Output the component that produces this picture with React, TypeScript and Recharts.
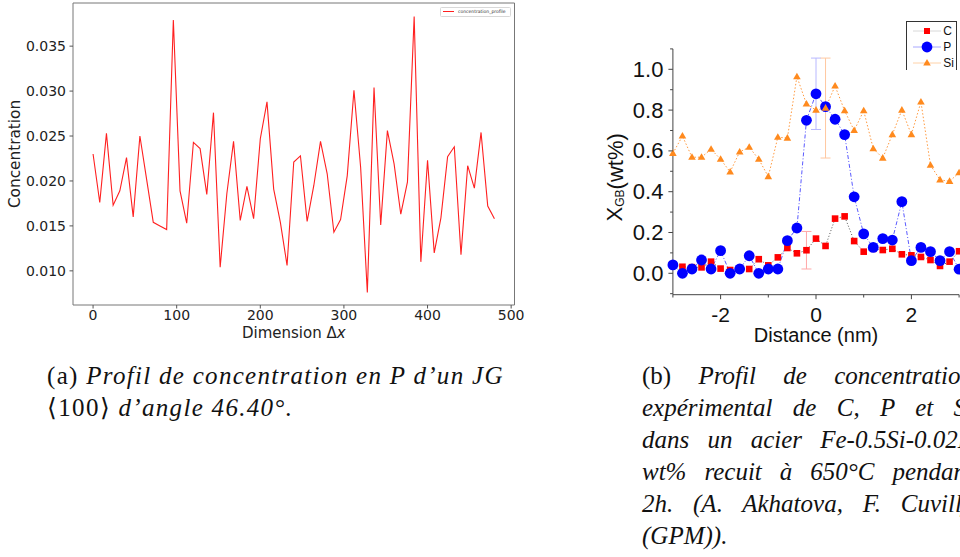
import React from "react";
import { LineChart, Line, XAxis, YAxis, ReferenceArea, Legend, ErrorBar } from "recharts";

// (a) profil simulé
const dimX = [0, 8, 16, 24, 32, 40, 48, 56, 64, 72, 80, 88, 96, 104, 112, 120, 128, 136, 144, 152,
  160, 168, 176, 184, 192, 200, 208, 216, 224, 232, 240, 248, 256, 264, 272, 280, 288, 296, 304, 312,
  320, 328, 336, 344, 352, 360, 368, 376, 384, 392, 400, 408, 416, 424, 432, 440, 448, 456, 464, 472, 480];
const concentration = [0.0230, 0.0176, 0.0253, 0.0173, 0.0189, 0.0226, 0.0160, 0.0250, 0.0202, 0.0154,
  0.0150, 0.0146, 0.0379, 0.0189, 0.0153, 0.0243, 0.0236, 0.0185, 0.0276, 0.0104,
  0.0186, 0.0244, 0.0156, 0.0194, 0.0158, 0.0247, 0.0288, 0.0191, 0.0154, 0.0106,
  0.0221, 0.0228, 0.0155, 0.0195, 0.0244, 0.0208, 0.0143, 0.0157, 0.0206, 0.0301,
  0.0215, 0.0076, 0.0304, 0.0151, 0.0256, 0.0219, 0.0163, 0.0199, 0.0383, 0.0110,
  0.0223, 0.0120, 0.0159, 0.0227, 0.0238, 0.0118, 0.0217, 0.0192, 0.0254, 0.0172, 0.0158];
const dimTicks = [0, 100, 200, 300, 400, 500];
const concTicks = [0.010, 0.015, 0.020, 0.025, 0.030, 0.035];

// (b) profil expérimental
const distance = [-3.0, -2.8, -2.6, -2.4, -2.2, -2.0, -1.8, -1.6, -1.4, -1.2, -1.0, -0.8, -0.6, -0.4, -0.2,
  0.0, 0.2, 0.4, 0.6, 0.8, 1.0, 1.2, 1.4, 1.6, 1.8, 2.0, 2.2, 2.4, 2.6, 2.8, 3.0];
const cWt = [0.040, 0.032, 0.030, 0.029, 0.057, 0.023, 0.016, 0.020, 0.021, 0.069, 0.039, 0.078, 0.124, 0.098, 0.113,
  0.170, 0.134, 0.268, 0.279, 0.158, 0.106, 0.120, 0.114, 0.120, 0.093, 0.088, 0.080, 0.065, 0.036, 0.057, 0.108];
const pWt = [0.041, 0.000, 0.021, 0.065, 0.021, 0.111, 0.000, 0.021, 0.086, 0.000, 0.021, 0.021, 0.160, 0.222, 0.750,
  0.880, 0.817, 0.755, 0.680, 0.375, 0.193, 0.127, 0.170, 0.163, 0.351, 0.062, 0.127, 0.106, 0.062, 0.106, 0.020];
const siWt = [0.588, 0.673, 0.569, 0.569, 0.608, 0.559, 0.497, 0.595, 0.618, 0.559, 0.474, 0.667, 0.663, 0.964, 0.830,
  0.800, 0.810, 0.918, 0.797, 0.700, 0.797, 0.611, 0.565, 0.680, 0.800, 0.680, 0.840, 0.530, 0.458, 0.451, 0.493];
// barres d'erreur : position et demi-largeur
const cErrAt = -0.2, cErrSize = 0.092;
const pErrAt = 0.0, pErrSize = 0.175;
const siErrAt = 0.2, siErrSize = 0.245;
const distTicks = [-3, -2, -1, 0, 1, 2, 3];
const distLabelled = [-2, 0, 2];
const wtTicks = [-0.1, 0.0, 0.1, 0.2, 0.3, 0.4, 0.5, 0.6, 0.7, 0.8, 0.9, 1.0, 1.1];
const wtLabelled = [0.0, 0.2, 0.4, 0.6, 0.8, 1.0];

const profileData = dimX.map((x, i) => ({ x, c: concentration[i] }));
const gbData = distance.map((d, i) => ({
  d,
  C: cWt[i],
  P: pWt[i],
  Si: siWt[i],
  cErr: d === cErrAt ? cErrSize : undefined,
  pErr: d === pErrAt ? pErrSize : undefined,
  siErr: d === siErrAt ? siErrSize : undefined,
}));

const MPL = "'DejaVu Sans', sans-serif";
const ARIAL = "'Liberation Sans', Arial, sans-serif";
const SERIF = "'Liberation Serif', 'Times New Roman', serif";

function ConcLabel(props: any) {
  const vb = props.viewBox || { x: 0, y: 3, width: 73, height: 302 };
  const cy = vb.y + vb.height / 2;
  return (
    <text x={vb.x + 15} y={cy} transform={`rotate(-90, ${vb.x + 15}, ${cy})`} textAnchor="middle"
      dominantBaseline="central" fontSize={15.3} fontFamily={MPL} fill="#222">Concentration</text>
  );
}

function DimLabel(props: any) {
  const vb = props.viewBox || { x: 73, y: 305, width: 441, height: 40 };
  return (
    <text x={vb.x + vb.width / 2} y={vb.y + 33} textAnchor="middle" fontSize={15} fontFamily={MPL} fill="#222">
      Dimension Δ<tspan fontStyle="italic">x</tspan>
    </text>
  );
}

function ProfileLegend() {
  return (
    <div style={{ width: 69, height: 8, border: "0.8px solid #d8d8d8", borderRadius: 1.5, background: "#fff",
      display: "flex", alignItems: "center", fontFamily: MPL, fontSize: 4.5, color: "#333", whiteSpace: "nowrap" }}>
      <span style={{ display: "inline-block", width: 11, height: 1, background: "#ff2020", margin: "0 4px 0 2px" }} />
      concentration_profile
    </div>
  );
}

function WtTick(props: any) {
  const { x, y, payload } = props;
  const major = wtLabelled.some(v => Math.abs(v - payload.value) < 1e-6);
  return (
    <g>
      <line x1={x - (major ? 4.5 : 2.8)} x2={x} y1={y} y2={y} stroke="#444" strokeWidth={1} />
      {major && (
        <text x={x - 9.5} y={y} textAnchor="end" dominantBaseline="central" fontSize={22} fontFamily={ARIAL} fill="#111">
          {payload.value.toFixed(1)}
        </text>
      )}
    </g>
  );
}

function DistTick(props: any) {
  const { x, y, payload } = props;
  const major = distLabelled.includes(payload.value);
  return (
    <g>
      <line x1={x} x2={x} y1={y} y2={y + (major ? 4.5 : 2.8)} stroke="#444" strokeWidth={1} />
      {major && (
        <text x={x} y={y + 19.5} textAnchor="middle" dominantBaseline="central" fontSize={21} fontFamily={ARIAL} fill="#111">
          {payload.value}
        </text>
      )}
    </g>
  );
}

function WtLabel(props: any) {
  const vb = props.viewBox || { x: 0, y: 49, width: 73, height: 246 };
  const cx = vb.x + 15;
  const cy = vb.y + vb.height / 2 + 5.5;
  return (
    <text x={cx} y={cy} transform={`rotate(-90, ${cx}, ${cy})`} textAnchor="middle" dominantBaseline="central"
      fontSize={22} fontFamily={ARIAL} fill="#111">
      X<tspan fontSize={12} dy={5}>GB</tspan><tspan dy={-5}>(wt%)</tspan>
    </text>
  );
}

function DistLabel(props: any) {
  const vb = props.viewBox || { x: 73, y: 295, width: 286, height: 55 };
  return (
    <text x={vb.x + vb.width / 2} y={vb.y + 47.5} textAnchor="middle" fontSize={20} fontFamily={ARIAL} fill="#111">
      Distance (nm)
    </text>
  );
}

const SquareDot = (props: any) => {
  const { cx, cy, index } = props;
  if (cx == null || cy == null) return <g key={`c-${index}`} />;
  return <rect key={`c-${index}`} x={cx - 3.3} y={cy - 3.3} width={6.6} height={6.6} fill="#ff0000" />;
};
const CircleDot = (props: any) => {
  const { cx, cy, index } = props;
  if (cx == null || cy == null) return <g key={`p-${index}`} />;
  return <circle key={`p-${index}`} cx={cx} cy={cy} r={5.4} fill="#0000ff" />;
};
const TriangleDot = (props: any) => {
  const { cx, cy, index } = props;
  if (cx == null || cy == null) return <g key={`s-${index}`} />;
  return <polygon key={`s-${index}`} points={`${cx},${cy - 4} ${cx - 3.8},${cy + 2.6} ${cx + 3.8},${cy + 2.6}`} fill="#ff8a1e" />;
};

function GbLegend() {
  const row = (label: string, line: string, mark: React.ReactNode) => (
    <div style={{ height: 16, display: "flex", alignItems: "center" }}>
      <svg width={36} height={16} style={{ display: "block" }}>
        <line x1={6} x2={34} y1={8} y2={8} stroke={line} strokeWidth={1} />
        {mark}
      </svg>
      <span style={{ fontFamily: ARIAL, fontSize: 12, color: "#111", marginLeft: 0.5 }}>{label}</span>
    </div>
  );
  return (
    <div style={{ width: 51, height: 49, borderTop: "1px solid #333", borderLeft: "1px solid #333",
      borderRight: "1px solid #333", background: "#fff", paddingTop: 1, boxSizing: "border-box" }}>
      {row("C", "#d8d8d8", <rect x={17} y={5} width={6} height={6} fill="#ff0000" />)}
      {row("P", "#a8a8ff", <circle cx={20} cy={8} r={5.4} fill="#0000ff" />)}
      {row("Si", "#ffd2a8", <polygon points="20,4 16.2,10.6 23.8,10.6" fill="#ff8a1e" />)}
    </div>
  );
}

const capStyle: React.CSSProperties = {
  position: "absolute", fontFamily: SERIF, fontSize: 25, lineHeight: "32px", color: "#111", whiteSpace: "nowrap",
};
const justLine: React.CSSProperties = {
  width: 331, textAlign: "justify", textAlignLast: "justify" as any, whiteSpace: "normal", height: 32, overflow: "visible",
};

export default function App() {
  return (
    <div style={{ position: "fixed", left: 0, top: 0, width: 960, height: 557, overflow: "hidden", background: "#fff" }}>
      <div style={{ position: "absolute", left: 0, top: 0 }}>
        <LineChart width={530} height={345} data={profileData} margin={{ top: 3, right: 15.5, left: 0, bottom: 0 }}>
          <XAxis dataKey="x" type="number" domain={[-24, 504]} ticks={dimTicks} interval={0}
            axisLine={false} tickSize={3.5} tickMargin={2} tickLine={{ stroke: "#555" }} height={40}
            tick={{ fontSize: 14, fontFamily: MPL, fill: "#222" }} label={<DimLabel />} />
          <YAxis type="number" domain={[0.0062, 0.0398]} ticks={concTicks} interval={0}
            axisLine={false} tickSize={3.5} tickMargin={3.5} tickLine={{ stroke: "#555" }} width={73}
            tickFormatter={(v: number) => v.toFixed(3)}
            tick={{ fontSize: 14, fontFamily: MPL, fill: "#222" }} label={<ConcLabel />} />
          <Line dataKey="c" name="concentration_profile" stroke="#ff2020" strokeWidth={1.1} dot={false}
            isAnimationActive={false} />
          <ReferenceArea x1={-24} x2={504} y1={0.0062} y2={0.0398} fill="none" stroke="#777" strokeWidth={1} />
          <Legend content={<ProfileLegend />} layout="horizontal" verticalAlign="middle" align="center"
            wrapperStyle={{ position: "absolute", left: 440, top: 6.5, width: 71 }} />
        </LineChart>
      </div>

      <div style={{ position: "absolute", left: 600, top: 0 }}>
        <LineChart width={400} height={352} data={gbData} margin={{ top: 48.9, right: 40.9, left: 0, bottom: 0 }}>
          <XAxis dataKey="d" type="number" domain={[-3, 3]} ticks={distTicks} interval={0}
            axisLine={{ stroke: "#444" }} tickLine={false} tickSize={0} tickMargin={0} height={57.3}
            tick={<DistTick />} label={<DistLabel />} />
          <YAxis type="number" domain={[-0.105, 1.1]} ticks={wtTicks} interval={0}
            axisLine={{ stroke: "#444" }} tickLine={false} tickSize={0} tickMargin={0} width={72.9}
            tick={<WtTick />} label={<WtLabel />} />
          <Line dataKey="C" stroke="#555" strokeWidth={1} strokeDasharray="1 2" dot={SquareDot}
            activeDot={false} isAnimationActive={false}>
            <ErrorBar dataKey="cErr" width={5} stroke="#ffa8a8" strokeWidth={1} direction="y" />
          </Line>
          <Line dataKey="P" stroke="#5a5aff" strokeWidth={1} strokeDasharray="4 2 1 2" dot={CircleDot}
            activeDot={false} isAnimationActive={false}>
            <ErrorBar dataKey="pErr" width={5} stroke="#b8b8ff" strokeWidth={1} direction="y" />
          </Line>
          <Line dataKey="Si" stroke="#ff9a40" strokeWidth={1} strokeDasharray="1.5 2" dot={TriangleDot}
            activeDot={false} isAnimationActive={false}>
            <ErrorBar dataKey="siErr" width={5} stroke="#ffc8a0" strokeWidth={1} direction="y" />
          </Line>
          <Legend content={<GbLegend />} layout="horizontal" verticalAlign="middle" align="center"
            wrapperStyle={{ position: "absolute", left: 305.7, top: 21, width: 52 }} />
        </LineChart>
      </div>

      <div style={{ ...capStyle, left: 47, top: 360, letterSpacing: 1.3 }}>
        <div>(a) <i>Profil de concentration en P d’un JG</i></div>
        <div>⟨100⟩ <i>d’angle 46.40°.</i></div>
      </div>

      <div style={{ ...capStyle, left: 642, top: 360 }}>
        <div style={justLine}>(b) <i>Profil de concentration</i></div>
        <div style={justLine}><i>expérimental de C, P et Si</i></div>
        <div style={justLine}><i>dans un acier Fe-0.5Si-0.02P</i></div>
        <div style={justLine}><i>wt% recuit à 650°C pendant</i></div>
        <div style={justLine}><i>2h. (A. Akhatova, F. Cuvilly</i></div>
        <div><i>(GPM)).</i></div>
      </div>
    </div>
  );
}
